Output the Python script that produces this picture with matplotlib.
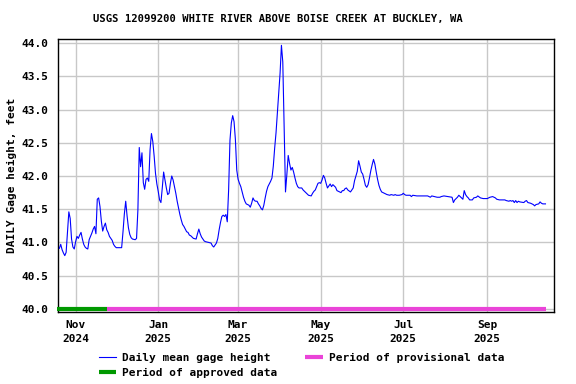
import pandas as pd
import matplotlib
matplotlib.use("Agg")
import matplotlib.pyplot as plt

# ----- datos -------------------------------------------------------------------
TITLE = "USGS 12099200 WHITE RIVER ABOVE BOISE CREEK AT BUCKLEY, WA"

obs_dates = [
    "2024-10-20", "2024-10-21", "2024-10-22", "2024-10-23", "2024-10-24", "2024-10-25",
    "2024-10-26", "2024-10-27", "2024-10-28", "2024-10-29", "2024-10-30", "2024-10-31",
    "2024-11-01", "2024-11-02", "2024-11-03", "2024-11-04", "2024-11-05", "2024-11-06",
    "2024-11-07", "2024-11-08", "2024-11-09", "2024-11-10", "2024-11-11", "2024-11-12",
    "2024-11-13", "2024-11-14", "2024-11-15", "2024-11-16", "2024-11-17", "2024-11-18",
    "2024-11-19", "2024-11-20", "2024-11-21", "2024-11-22", "2024-11-23", "2024-11-24",
    "2024-11-25", "2024-11-26", "2024-11-27", "2024-11-28", "2024-11-29", "2024-11-30",
    "2024-12-01", "2024-12-05", "2024-12-06", "2024-12-07", "2024-12-08", "2024-12-09",
    "2024-12-10", "2024-12-11", "2024-12-12", "2024-12-13", "2024-12-15", "2024-12-16",
    "2024-12-17", "2024-12-18", "2024-12-19", "2024-12-20", "2024-12-21", "2024-12-22",
    "2024-12-23", "2024-12-24", "2024-12-25", "2024-12-26", "2024-12-27", "2024-12-28",
    "2024-12-29", "2024-12-30", "2024-12-31",
    "2025-01-01", "2025-01-02", "2025-01-03", "2025-01-04", "2025-01-05", "2025-01-06",
    "2025-01-07", "2025-01-08", "2025-01-09", "2025-01-10", "2025-01-11", "2025-01-12",
    "2025-01-13", "2025-01-14", "2025-01-15", "2025-01-16", "2025-01-17", "2025-01-18",
    "2025-01-19", "2025-01-20", "2025-01-21", "2025-01-22", "2025-01-23", "2025-01-24",
    "2025-01-25", "2025-01-26", "2025-01-27", "2025-01-29", "2025-01-30", "2025-01-31",
    "2025-02-01", "2025-02-02", "2025-02-03", "2025-02-04", "2025-02-05", "2025-02-07",
    "2025-02-09", "2025-02-10", "2025-02-11", "2025-02-12", "2025-02-13", "2025-02-14",
    "2025-02-15", "2025-02-16", "2025-02-17", "2025-02-18", "2025-02-19", "2025-02-20",
    "2025-02-21", "2025-02-22", "2025-02-23", "2025-02-24", "2025-02-25", "2025-02-26",
    "2025-02-27", "2025-02-28",
    "2025-03-01", "2025-03-02", "2025-03-03", "2025-03-04", "2025-03-05", "2025-03-06",
    "2025-03-07", "2025-03-08", "2025-03-09", "2025-03-10", "2025-03-11", "2025-03-12",
    "2025-03-13", "2025-03-14", "2025-03-15", "2025-03-16", "2025-03-17", "2025-03-18",
    "2025-03-19", "2025-03-20", "2025-03-21", "2025-03-22", "2025-03-23", "2025-03-24",
    "2025-03-25", "2025-03-26", "2025-03-27", "2025-03-28", "2025-03-29", "2025-03-30",
    "2025-03-31",
    "2025-04-01", "2025-04-02", "2025-04-03", "2025-04-04", "2025-04-05", "2025-04-06",
    "2025-04-07", "2025-04-08", "2025-04-09", "2025-04-10", "2025-04-11", "2025-04-12",
    "2025-04-13", "2025-04-14", "2025-04-15", "2025-04-17", "2025-04-18", "2025-04-19",
    "2025-04-20", "2025-04-21", "2025-04-22", "2025-04-24", "2025-04-25", "2025-04-26",
    "2025-04-27", "2025-04-28", "2025-04-29", "2025-04-30",
    "2025-05-01", "2025-05-02", "2025-05-03", "2025-05-04", "2025-05-05", "2025-05-06",
    "2025-05-07", "2025-05-08", "2025-05-09", "2025-05-10", "2025-05-11", "2025-05-12",
    "2025-05-13", "2025-05-14", "2025-05-16", "2025-05-17", "2025-05-18", "2025-05-19",
    "2025-05-20", "2025-05-21", "2025-05-23", "2025-05-24", "2025-05-25", "2025-05-26",
    "2025-05-27", "2025-05-28", "2025-05-29", "2025-05-30", "2025-05-31",
    "2025-06-01", "2025-06-02", "2025-06-03", "2025-06-04", "2025-06-05", "2025-06-06",
    "2025-06-07", "2025-06-08", "2025-06-09", "2025-06-10", "2025-06-11", "2025-06-12",
    "2025-06-13", "2025-06-14", "2025-06-15", "2025-06-16", "2025-06-17", "2025-06-19",
    "2025-06-21", "2025-06-22", "2025-06-24", "2025-06-25", "2025-06-26", "2025-06-28",
    "2025-06-30",
    "2025-07-01", "2025-07-02", "2025-07-03", "2025-07-06", "2025-07-07", "2025-07-08",
    "2025-07-11", "2025-07-19", "2025-07-21", "2025-07-22", "2025-07-24", "2025-07-26",
    "2025-07-28", "2025-07-29", "2025-07-31",
    "2025-08-03", "2025-08-06", "2025-08-07", "2025-08-08", "2025-08-10", "2025-08-11",
    "2025-08-13", "2025-08-14", "2025-08-15", "2025-08-16", "2025-08-17", "2025-08-18",
    "2025-08-19", "2025-08-21", "2025-08-22", "2025-08-24", "2025-08-25", "2025-08-27",
    "2025-08-29",
    "2025-09-01", "2025-09-03", "2025-09-05", "2025-09-07", "2025-09-08", "2025-09-10",
    "2025-09-14", "2025-09-15", "2025-09-17", "2025-09-18", "2025-09-19", "2025-09-20",
    "2025-09-21", "2025-09-22", "2025-09-23", "2025-09-24", "2025-09-25", "2025-09-28",
    "2025-09-29", "2025-09-30",
    "2025-10-01", "2025-10-03", "2025-10-04", "2025-10-05", "2025-10-06", "2025-10-07",
    "2025-10-09", "2025-10-10", "2025-10-11", "2025-10-12", "2025-10-14",
]

gage_ft = [
    40.91, 40.97, 40.89, 40.84, 40.80, 40.85,
    41.16, 41.46, 41.36, 41.05, 40.93, 40.90,
    41.01, 41.09, 41.06, 41.11, 41.15, 41.05,
    40.97, 40.93, 40.91, 40.90, 41.04, 41.09,
    41.14, 41.20, 41.24, 41.13, 41.65, 41.67,
    41.54, 41.32, 41.17, 41.24, 41.29, 41.19,
    41.15, 41.09, 41.06, 41.03, 40.97, 40.94,
    40.92, 40.92, 41.16, 41.43, 41.62, 41.40,
    41.22, 41.12, 41.07, 41.05, 41.04, 41.06,
    41.49, 42.43, 42.14, 42.35, 41.90, 41.80,
    41.95, 41.97, 41.92, 42.40, 42.64, 42.52,
    42.30, 42.04, 41.88,
    41.77, 41.64, 41.60, 41.82, 42.06, 41.94,
    41.82, 41.72, 41.74, 41.89, 42.00, 41.94,
    41.84, 41.74, 41.62, 41.52, 41.42, 41.34,
    41.27, 41.24, 41.20, 41.16, 41.15, 41.11,
    41.10, 41.08, 41.06, 41.05, 41.13, 41.20,
    41.13, 41.08, 41.05, 41.02, 41.01, 41.00,
    40.99, 40.95, 40.93, 40.96, 40.99, 41.06,
    41.19, 41.30, 41.39, 41.41, 41.39, 41.42,
    41.31, 41.79, 42.54, 42.80, 42.91, 42.82,
    42.55, 42.09,
    41.95, 41.89, 41.84, 41.76, 41.68, 41.62,
    41.58, 41.57, 41.56, 41.53, 41.59, 41.67,
    41.63, 41.62, 41.62, 41.58, 41.55, 41.51,
    41.49, 41.56, 41.67, 41.77, 41.84, 41.88,
    41.92, 41.97, 42.15, 42.42, 42.65, 42.95,
    43.25,
    43.55, 43.97, 43.72, 42.70, 41.76, 42.02,
    42.31, 42.19, 42.09, 42.13, 42.06, 41.97,
    41.89, 41.84, 41.82, 41.82, 41.79, 41.77,
    41.75, 41.73, 41.71, 41.70, 41.74, 41.77,
    41.79, 41.84, 41.89, 41.90,
    41.89, 41.94, 42.01, 41.97, 41.89, 41.82,
    41.85, 41.88, 41.84, 41.87, 41.85, 41.83,
    41.78, 41.77, 41.75, 41.78, 41.78, 41.81,
    41.82, 41.79, 41.76, 41.79, 41.82, 41.93,
    42.00, 42.07, 42.23, 42.15, 42.06,
    42.03, 41.95, 41.86, 41.83, 41.87, 41.97,
    42.08, 42.17, 42.25, 42.18, 42.06, 41.95,
    41.86, 41.80, 41.76, 41.75, 41.74, 41.72,
    41.71, 41.72, 41.71, 41.72, 41.71, 41.71,
    41.72,
    41.74, 41.72, 41.71, 41.71, 41.69, 41.71,
    41.70, 41.70, 41.68, 41.70, 41.69, 41.68,
    41.68, 41.69, 41.70,
    41.69, 41.68, 41.60, 41.64, 41.68, 41.71,
    41.67, 41.65, 41.78, 41.72, 41.69, 41.67,
    41.64, 41.64, 41.67, 41.68, 41.70, 41.67,
    41.66,
    41.66, 41.68, 41.69, 41.67, 41.65, 41.64,
    41.64, 41.63, 41.62, 41.63, 41.62, 41.63,
    41.60, 41.63, 41.60, 41.62, 41.61, 41.60,
    41.62, 41.63,
    41.60, 41.59, 41.58, 41.57, 41.55, 41.57,
    41.58, 41.61, 41.59, 41.58, 41.58,
]

# periodos de aprobación (barras sobre 40.0)
approved_span = ["2024-10-18 12:00", "2024-11-24 12:00"]
provisional_span = ["2024-11-24 12:00", "2025-10-14 12:00"]
status_level = 40.0

x_limits = ["2024-10-19 05:00", "2025-10-20 07:00"]
y_limits = (39.955, 44.065)
y_ticks = [40.0, 40.5, 41.0, 41.5, 42.0, 42.5, 43.0, 43.5, 44.0]
x_ticks = ["2024-11-01", "2025-01-01", "2025-03-01", "2025-05-01", "2025-07-01", "2025-09-01"]
# ------------------------------------------------------------------------------

FONT = dict(family="DejaVu Sans Mono", weight="bold", size=8)


def main():
    dates = pd.to_datetime(obs_dates)
    xt = pd.to_datetime(x_ticks)

    fig = plt.figure(figsize=(5.76, 3.84), dpi=100)
    ax = fig.add_axes([0.1012, 0.1883, 0.8606, 0.7101])

    ax.plot(dates, gage_ft, color="#0000ff", lw=0.8, label="Daily mean gage height", zorder=3)

    ap = pd.to_datetime(approved_span)
    pr = pd.to_datetime(provisional_span)
    ax.plot(ap, [status_level] * 2, color="#009900", lw=3.0, solid_capstyle="butt",
            label="Period of approved data", zorder=4, clip_on=False)
    ax.plot(pr, [status_level] * 2, color="#ea44d8", lw=3.0, solid_capstyle="butt",
            label="Period of provisional data", zorder=4, clip_on=False)

    ax.set_xlim(pd.to_datetime(x_limits))
    ax.set_ylim(*y_limits)
    ax.set_yticks(y_ticks)
    ax.set_yticklabels([f"{v:.1f}" for v in y_ticks], fontdict=FONT)
    ax.set_xticks(xt)
    ax.set_xticklabels([d.strftime("%b\n%Y") for d in xt], fontdict=FONT, linespacing=1.45)

    ax.grid(color="#c8c8c8", lw=1.0)
    ax.set_axisbelow(True)
    ax.tick_params(axis="y", length=0, pad=7)
    ax.tick_params(axis="x", length=0, pad=6)
    for sp in ax.spines.values():
        sp.set_linewidth(1.0)

    ax.set_ylabel("DAILY Gage height, feet", fontdict=FONT, labelpad=3.5)
    fig.text(0.482, 0.951, TITLE, ha="center", va="center",
             fontdict=dict(FONT, size=7.6))

    h, l = ax.get_legend_handles_labels()
    fig.legend(h, l, ncol=2, loc="upper left", bbox_to_anchor=(0.172, 0.080),
               frameon=False, borderpad=0, borderaxespad=0,
               handlelength=1.55, handletextpad=0.55, columnspacing=2.5,
               labelspacing=0.45, prop=FONT)

    fig.savefig("out.png", dpi=100)


if __name__ == "__main__":
    main()
